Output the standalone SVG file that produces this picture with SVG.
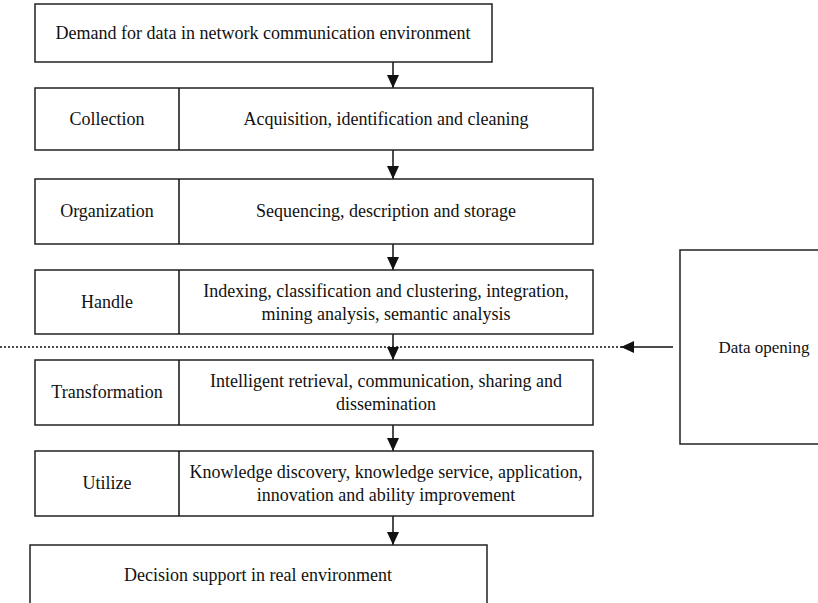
<svg xmlns="http://www.w3.org/2000/svg" width="818" height="603" viewBox="0 0 818 603">
  <style>
    .box { fill: #fff; stroke: #222; stroke-width: 1.5; }
    .lbl { font-family: "Liberation Serif", "Times New Roman", serif; font-size: 18px; fill: #111; text-anchor: middle; dominant-baseline: central; }
    .edge { stroke: #111; stroke-width: 1.5; fill: none; }
    .dots { stroke: #111; stroke-width: 1.3; stroke-dasharray: 2 2; fill: none; }
  </style>
  <defs>
    <marker id="arrow" viewBox="0 0 13 12" refX="13" refY="6" markerWidth="13" markerHeight="12" markerUnits="userSpaceOnUse" orient="auto">
      <path d="M0,0 L13,6 L0,12 z" fill="#111"/>
    </marker>
  </defs>

  <rect width="818" height="603" fill="#fff"/>

  <g id="connectors">
    <line class="dots" x1="0" y1="347" x2="622" y2="347"/>
    <line class="edge" x1="673" y1="347" x2="621" y2="347" marker-end="url(#arrow)"/>
    <line class="edge" x1="393" y1="62" x2="393" y2="88" marker-end="url(#arrow)"/>
    <line class="edge" x1="393" y1="150" x2="393" y2="179" marker-end="url(#arrow)"/>
    <line class="edge" x1="393" y1="244" x2="393" y2="270" marker-end="url(#arrow)"/>
    <line class="edge" x1="393" y1="334" x2="393" y2="360" marker-end="url(#arrow)"/>
    <line class="edge" x1="393" y1="425" x2="393" y2="451" marker-end="url(#arrow)"/>
    <line class="edge" x1="393" y1="516" x2="393" y2="545" marker-end="url(#arrow)"/>
  </g>

  <g id="demand">
    <rect class="box" x="35" y="4" width="457" height="58"/>
    <text class="lbl" x="263" y="33">Demand for data in network communication environment</text>
  </g>

  <g id="collection">
    <rect class="box" x="35" y="88" width="558" height="62"/>
    <line class="edge" x1="179" y1="88" x2="179" y2="150"/>
    <text class="lbl" x="107" y="119">Collection</text>
    <text class="lbl" x="386" y="119">Acquisition, identification and cleaning</text>
  </g>

  <g id="organization">
    <rect class="box" x="35" y="179" width="558" height="65"/>
    <line class="edge" x1="179" y1="179" x2="179" y2="244"/>
    <text class="lbl" x="107" y="211">Organization</text>
    <text class="lbl" x="386" y="211">Sequencing, description and storage</text>
  </g>

  <g id="handle">
    <rect class="box" x="35" y="270" width="558" height="64"/>
    <line class="edge" x1="179" y1="270" x2="179" y2="334"/>
    <text class="lbl" x="107" y="302">Handle</text>
    <text class="lbl" x="386" y="291">Indexing, classification and clustering, integration,</text>
    <text class="lbl" x="386" y="314">mining analysis, semantic analysis</text>
  </g>

  <g id="transformation">
    <rect class="box" x="35" y="360" width="558" height="65"/>
    <line class="edge" x1="179" y1="360" x2="179" y2="425"/>
    <text class="lbl" x="107" y="392">Transformation</text>
    <text class="lbl" x="386" y="381">Intelligent retrieval, communication, sharing and</text>
    <text class="lbl" x="386" y="404">dissemination</text>
  </g>

  <g id="utilize">
    <rect class="box" x="35" y="451" width="558" height="65"/>
    <line class="edge" x1="179" y1="451" x2="179" y2="516"/>
    <text class="lbl" x="107" y="483">Utilize</text>
    <text class="lbl" x="386" y="472">Knowledge discovery, knowledge service, application,</text>
    <text class="lbl" x="386" y="495">innovation and ability improvement</text>
  </g>

  <g id="decision">
    <rect class="box" x="30" y="545" width="457" height="70"/>
    <text class="lbl" x="258" y="575">Decision support in real environment</text>
  </g>

  <g id="data-opening">
    <rect class="box" x="680" y="250" width="150" height="194"/>
    <text class="lbl" x="764" y="347" style="font-size:17px">Data opening</text>
  </g>
</svg>
